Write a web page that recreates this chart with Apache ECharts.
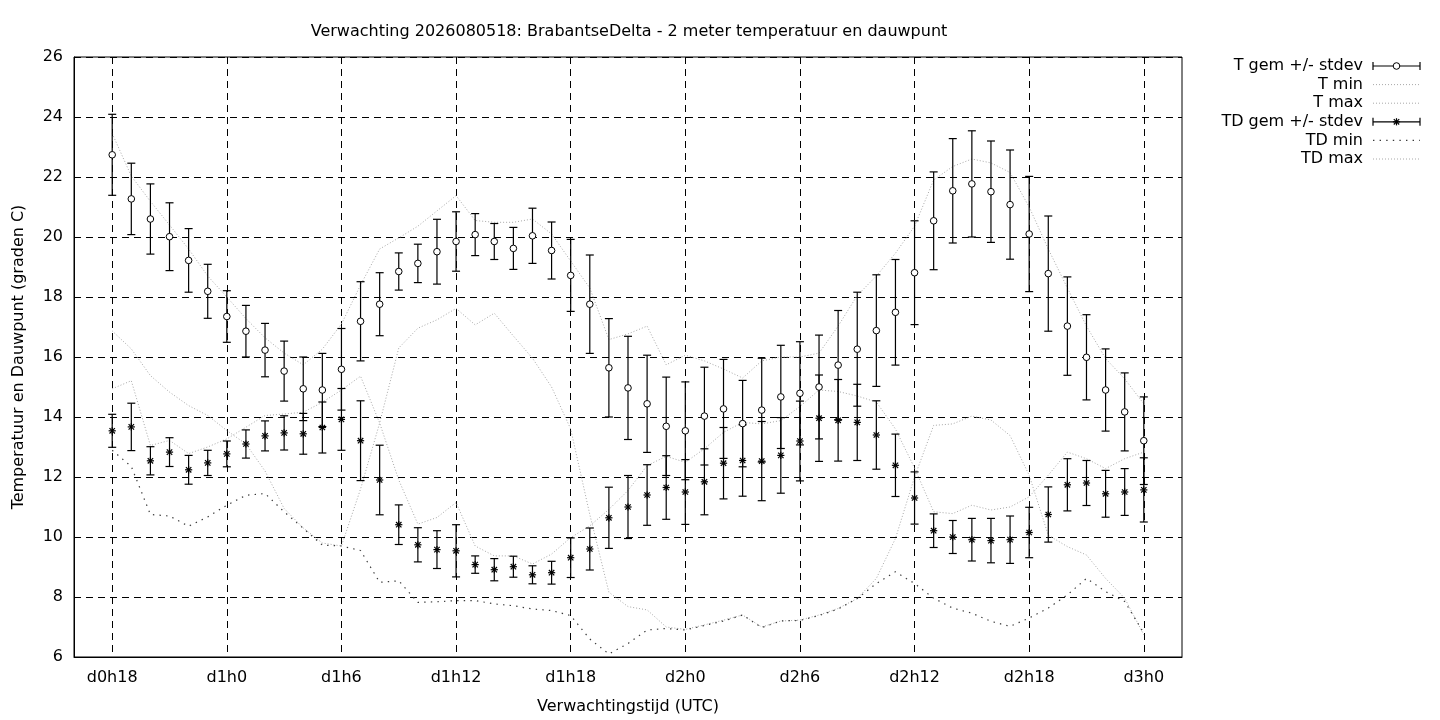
<!DOCTYPE html>
<html>
<head>
<meta charset="utf-8">
<title>BrabantseDelta - 2 meter temperatuur en dauwpunt</title>
<script src="https://cdn.jsdelivr.net/npm/echarts@6.0.0/dist/echarts.min.js"></script>
<style>
  html, body { margin: 0; padding: 0; background: #fff; }
  #chart { width: 1440px; height: 720px; }
</style>
</head>
<body>
<div id="chart"></div>
<script>
// axis runs from d0h16 to d3h2, points every hour from d0h18 to d3h0
var FIRST_HOUR = 16, LAST_HOUR = 74;
var START_HOUR = 18;

var tickLabels = ['d0h18', 'd1h0', 'd1h6', 'd1h12', 'd1h18', 'd2h0', 'd2h6', 'd2h12', 'd2h18', 'd3h0'];

// T gem / stdev (h18 .. h72)
var tMean = [22.74, 21.27, 20.60, 20.01, 19.22, 18.19, 17.35, 16.86, 16.23, 15.53,
             14.94, 14.90, 15.59, 17.19, 17.76, 18.85, 19.12, 19.51, 19.85, 20.08,
             19.85, 19.62, 20.04, 19.55, 18.72, 17.76, 15.64, 14.97, 14.44, 13.69,
             13.54, 14.03, 14.27, 13.78, 14.23, 14.67, 14.79, 15.00, 15.73, 16.26,
             16.88, 17.49, 18.81, 20.54, 21.54, 21.77, 21.51, 21.08, 20.10, 18.78,
             17.03, 15.99, 14.90, 14.17, 13.21];
var tSd = [1.35, 1.19, 1.17, 1.13, 1.06, 0.90, 0.86, 0.86, 0.89, 1.00,
           1.06, 1.22, 1.36, 1.32, 1.05, 0.62, 0.64, 1.08, 0.99, 0.70,
           0.60, 0.70, 0.92, 0.95, 1.20, 1.64, 1.64, 1.72, 1.62, 1.64,
           1.63, 1.63, 1.65, 1.44, 1.73, 1.72, 1.72, 1.73, 1.82, 1.90,
           1.86, 1.76, 1.73, 1.63, 1.74, 1.77, 1.69, 1.82, 1.92, 1.92,
           1.64, 1.42, 1.37, 1.30, 1.46];
var tMin = [16.87, 16.27, 15.38, 14.83, 14.38, 14.05, 13.55, 13.10, 12.20, 10.95,
            10.30, 9.80, 9.70, 11.60, 13.80, 16.30, 16.96, 17.24, 17.62, 17.07,
            17.46, 16.70, 15.96, 15.00, 13.60, 10.75, 8.16, 7.68, 7.57, 7.00,
            6.92, 7.07, 7.23, 7.40, 7.00, 7.20, 7.23, 7.40, 7.62, 7.95,
            8.62, 9.95, 12.00, 13.72, 13.77, 14.03, 13.90, 13.38, 12.06, 10.06,
            9.68, 9.40, 8.62, 7.96, 6.74];
var tMax = [23.45, 22.03, 21.19, 20.40, 19.60, 18.70, 18.00, 17.28, 16.64, 16.13,
            15.74, 16.26, 17.10, 18.40, 19.60, 19.97, 20.36, 20.87, 21.38, 20.55,
            20.49, 20.49, 20.60, 20.10, 19.20, 18.30, 16.58, 16.77, 17.03, 15.74,
            16.06, 15.87, 15.60, 15.30, 15.87, 16.00, 16.00, 16.13, 17.03, 18.05,
            18.70, 19.46, 20.36, 21.90, 22.35, 22.60, 22.47, 22.15, 21.00, 19.60,
            18.30, 17.03, 15.95, 15.27, 14.44];

// TD gem / stdev (h18 .. h72)
var tdMean = [13.54, 13.67, 12.54, 12.83, 12.24, 12.47, 12.77, 13.10, 13.37, 13.47,
              13.44, 13.65, 13.92, 13.21, 11.90, 10.41, 9.74, 9.58, 9.54, 9.08,
              8.91, 9.01, 8.74, 8.81, 9.31, 9.60, 10.64, 11.00, 11.40, 11.65,
              11.50, 11.84, 12.46, 12.55, 12.53, 12.72, 13.20, 13.96, 13.89, 13.82,
              13.40, 12.39, 11.30, 10.21, 10.00, 9.91, 9.88, 9.91, 10.15, 10.75,
              11.74, 11.80, 11.44, 11.50, 11.57];
var tdSd = [0.55, 0.79, 0.47, 0.48, 0.48, 0.42, 0.43, 0.47, 0.50, 0.57,
            0.68, 0.85, 1.03, 1.33, 1.16, 0.66, 0.57, 0.63, 0.87, 0.29,
            0.37, 0.35, 0.30, 0.38, 0.66, 0.70, 1.02, 1.05, 1.01, 1.06,
            1.08, 1.10, 1.19, 1.19, 1.32, 1.26, 1.33, 1.44, 1.36, 1.27,
            1.14, 1.04, 0.87, 0.56, 0.55, 0.71, 0.74, 0.79, 0.84, 0.92,
            0.87, 0.75, 0.78, 0.78, 1.07];
var tdMin = [12.89, 12.35, 10.75, 10.70, 10.36, 10.67, 11.06, 11.39, 11.45, 10.84,
             10.29, 9.73, 9.70, 9.55, 8.49, 8.54, 7.82, 7.84, 7.88, 7.88,
             7.77, 7.71, 7.60, 7.55, 7.38, 6.60, 6.10, 6.45, 6.90, 6.95,
             6.90, 7.05, 7.20, 7.40, 6.98, 7.20, 7.22, 7.38, 7.60, 7.95,
             8.45, 8.84, 8.45, 7.96, 7.63, 7.46, 7.19, 7.02, 7.30, 7.63,
             8.07, 8.62, 8.18, 7.85, 6.80];
var tdMax = [14.94, 15.21, 13.05, 13.22, 12.78, 13.00, 13.27, 13.66, 14.05, 14.10,
             14.16, 14.49, 14.90, 15.36, 13.80, 11.90, 10.43, 10.65, 11.15, 9.70,
             9.37, 9.37, 9.10, 9.43, 9.98, 10.37, 10.92, 11.55, 12.38, 12.69,
             12.49, 12.94, 13.49, 13.82, 13.77, 13.88, 14.35, 14.90, 14.85, 14.70,
             14.50, 13.60, 12.30, 10.84, 10.78, 11.06, 10.90, 11.00, 11.34, 12.06,
             12.83, 12.61, 12.28, 12.61, 12.83];

function hourLabel(h) {
    return 'd' + Math.floor(h / 24) + 'h' + (h % 24);
}

var axisCats = [];
for (var h = FIRST_HOUR; h <= LAST_HOUR; h++) axisCats.push(hourLabel(h));

function catIndex(k) { return START_HOUR + k - FIRST_HOUR; }   // k = index in the data arrays

function isTick(index, value) { return tickLabels.indexOf(value) >= 0; }

var FONT = 'DejaVu Sans';
var FONT_SIZE = 16;
var LIGHT = '#a8a8a8', DARK = '#3a3a3a';
var LIGHT_DASH = [1, 2], DARK_DASH = [1.4, 5.2];

// markers (plain elements, usable both in custom series and in graphic)
function circleMarker(x, y) {
    return { type: 'circle', shape: { cx: x, cy: y, r: 3.3 },
             style: { fill: '#fff', stroke: '#000', lineWidth: 1 }, z2: 10 };
}
function starMarker(x, y) {
    var r = 3.6, d = 2.7;
    var st = { stroke: '#000', lineWidth: 1.2 };
    return { type: 'group', children: [
        { type: 'line', shape: { x1: x - r, y1: y, x2: x + r, y2: y }, style: st, z2: 10 },
        { type: 'line', shape: { x1: x, y1: y - r, x2: x, y2: y + r }, style: st, z2: 10 },
        { type: 'line', shape: { x1: x - d, y1: y - d, x2: x + d, y2: y + d }, style: st, z2: 10 },
        { type: 'line', shape: { x1: x - d, y1: y + d, x2: x + d, y2: y - d }, style: st, z2: 10 }
    ] };
}

function errorBars(marker) {
    return function (params, api) {
        var i = api.value(0), m = api.value(1), s = api.value(2);
        var p = api.coord([i, m]);
        var hi = api.coord([i, m + s]);
        var lo = api.coord([i, m - s]);
        var cap = 4;
        var st = { stroke: '#000', lineWidth: 1.2 };
        return {
            type: 'group',
            children: [
                { type: 'line', shape: { x1: p[0], y1: hi[1], x2: p[0], y2: lo[1] }, style: st },
                { type: 'line', shape: { x1: p[0] - cap, y1: hi[1], x2: p[0] + cap, y2: hi[1] }, style: st },
                { type: 'line', shape: { x1: p[0] - cap, y1: lo[1], x2: p[0] + cap, y2: lo[1] }, style: st },
                marker(p[0], p[1])
            ]
        };
    };
}

function barData(mean, sd) {
    return mean.map(function (v, k) { return [catIndex(k), v, sd[k]]; });
}
function lineData(vals) {
    return vals.map(function (v, k) { return [catIndex(k), v]; });
}
function dottedLine(name, vals, color, dash, width) {
    return {
        name: name, type: 'line', data: lineData(vals), symbol: 'none',
        lineStyle: { color: color, type: dash, width: width }, z: 3, silent: true
    };
}

// legend drawn by hand, gnuplot style (text right aligned, sample to the right)
var legendRows = [
    { text: 'T gem +/- stdev', kind: 'bar', marker: circleMarker },
    { text: 'T min', kind: 'line', color: LIGHT, dash: LIGHT_DASH },
    { text: 'T max', kind: 'line', color: LIGHT, dash: LIGHT_DASH },
    { text: 'TD gem +/- stdev', kind: 'bar', marker: starMarker },
    { text: 'TD min', kind: 'line', color: DARK, dash: DARK_DASH },
    { text: 'TD max', kind: 'line', color: LIGHT, dash: LIGHT_DASH }
];
var legendGraphics = [];
legendRows.forEach(function (row, i) {
    var y = 66 + i * 18.6;
    var x1 = 1373, x2 = 1420;
    legendGraphics.push({ type: 'text', x: 1363, y: y,
        style: { text: row.text, fill: '#000', font: FONT_SIZE + 'px "DejaVu Sans"', align: 'right', verticalAlign: 'middle' } });
    if (row.kind === 'bar') {
        var st = { stroke: '#000', lineWidth: 1.2 };
        legendGraphics.push({ type: 'line', shape: { x1: x1, y1: y, x2: x2, y2: y }, style: st });
        legendGraphics.push({ type: 'line', shape: { x1: x1, y1: y - 4, x2: x1, y2: y + 4 }, style: st });
        legendGraphics.push({ type: 'line', shape: { x1: x2, y1: y - 4, x2: x2, y2: y + 4 }, style: st });
        legendGraphics.push(row.marker((x1 + x2) / 2, y));
    } else {
        legendGraphics.push({ type: 'line', shape: { x1: x1, y1: y, x2: x2, y2: y },
            style: { stroke: row.color, lineWidth: row.color === DARK ? 1.2 : 1, lineDash: row.dash } });
    }
});

var chart = echarts.init(document.getElementById('chart'));
var gridLine = { show: true, lineStyle: { color: '#000', type: [7, 5], width: 1 } };

chart.setOption({
    animation: false,
    backgroundColor: '#fff',
    textStyle: { fontFamily: FONT },
    title: {
        text: 'Verwachting 2026080518: BrabantseDelta - 2 meter temperatuur en dauwpunt',
        left: 624, top: 19, textAlign: 'center',
        textStyle: { fontFamily: FONT, fontSize: FONT_SIZE, fontWeight: 'normal', color: '#000' }
    },
    grid: { left: 74, right: 258, top: 57, bottom: 61, show: true, borderColor: '#000', borderWidth: 1 },
    xAxis: {
        type: 'category', data: axisCats, boundaryGap: false,
        name: 'Verwachtingstijd (UTC)', nameLocation: 'middle', nameGap: 42,
        nameTextStyle: { fontFamily: FONT, fontSize: FONT_SIZE, color: '#000' },
        axisLine: { show: true, lineStyle: { color: '#000', width: 1 } },
        axisTick: { show: false },
        axisLabel: { interval: isTick, color: '#000', fontFamily: FONT, fontSize: FONT_SIZE, margin: 13 },
        splitLine: { show: true, interval: isTick, lineStyle: gridLine.lineStyle }
    },
    yAxis: {
        type: 'value', min: 6, max: 26, interval: 2,
        name: 'Temperatuur en Dauwpunt (graden C)', nameLocation: 'middle', nameGap: 47, nameRotate: 90,
        nameTextStyle: { fontFamily: FONT, fontSize: FONT_SIZE, color: '#000' },
        axisLine: { show: true, lineStyle: { color: '#000', width: 1 } },
        axisTick: { show: false },
        axisLabel: { color: '#000', fontFamily: FONT, fontSize: FONT_SIZE, margin: 11 },
        splitLine: gridLine
    },
    graphic: legendGraphics,
    series: [
        { name: 'T gem +/- stdev', type: 'custom', renderItem: errorBars(circleMarker),
          data: barData(tMean, tSd), encode: { x: 0, y: 1 }, z: 4, silent: true },
        dottedLine('T min', tMin, LIGHT, LIGHT_DASH, 1),
        dottedLine('T max', tMax, LIGHT, LIGHT_DASH, 1),
        { name: 'TD gem +/- stdev', type: 'custom', renderItem: errorBars(starMarker),
          data: barData(tdMean, tdSd), encode: { x: 0, y: 1 }, z: 4, silent: true },
        dottedLine('TD min', tdMin, DARK, DARK_DASH, 1.2),
        dottedLine('TD max', tdMax, LIGHT, LIGHT_DASH, 1)
    ]
});
</script>
</body>
</html>
